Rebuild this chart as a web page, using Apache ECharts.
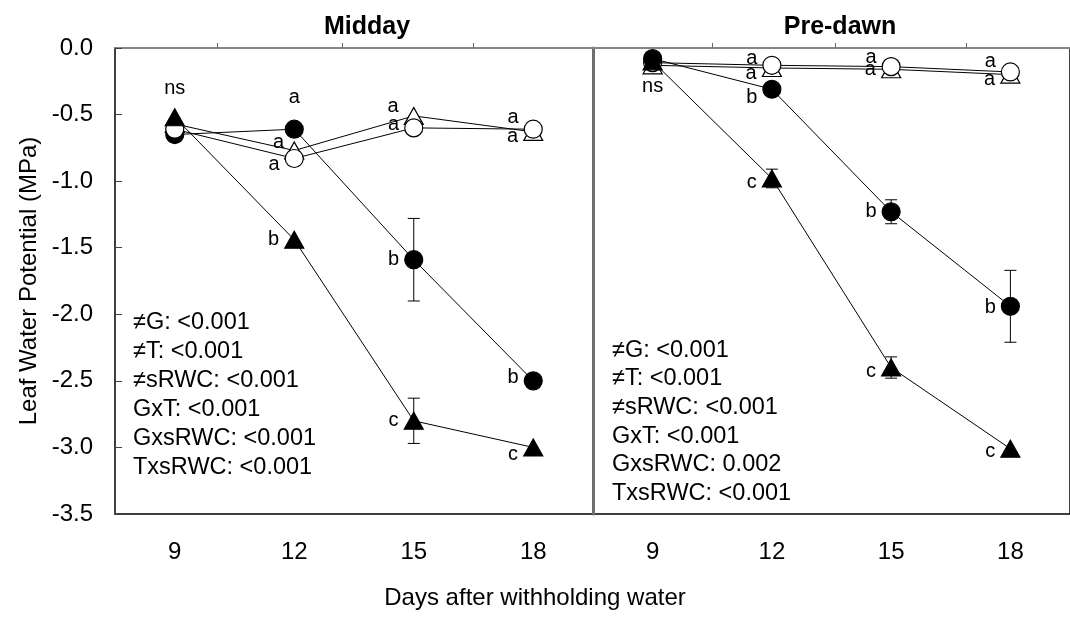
<!DOCTYPE html>
<html>
<head>
<meta charset="utf-8">
<script src="https://cdn.jsdelivr.net/npm/echarts@6/dist/echarts.min.js"></script>
<style>
  html, body { margin: 0; padding: 0; background: #fff; }
  #chart { width: 1070px; height: 619px; }
</style>
</head>
<body>
<div id="chart"></div>
<script>
// ---- data ----
const days = [9, 12, 15, 18];
const dayTickLabels = [9, 12, 15, 18];
const yTickLabels = [0, -0.5, -1, -1.5, -2, -2.5, -3, -3.5];

// Midday leaf water potential (MPa)
const midFilledCircle = [-0.65, -0.61, -1.59, -2.50];
const midFilledCircleErr = [0, 0, 0.31, 0];
const midFilledTri = [-0.52, -1.44, -2.80, -3.00];
const midFilledTriErr = [0, 0, 0.17, 0];
const midOpenCircle = [-0.61, -0.83, -0.60, -0.61];
const midOpenTri = [-0.57, -0.77, -0.51, -0.63];

// Pre-dawn leaf water potential (MPa)
const preFilledCircle = [-0.08, -0.31, -1.23, -1.94];
const preFilledCircleErr = [0, 0, 0.09, 0.27];
const preFilledTri = [-0.10, -0.98, -2.40, -3.01];
const preFilledTriErr = [0, 0.07, 0.08, 0];
const preOpenCircle = [-0.11, -0.13, -0.14, -0.18];
const preOpenTri = [-0.13, -0.15, -0.16, -0.20];

// significance letters
const midFilledCircleLetters = ['', 'a', 'b', 'b'];
const midFilledTriLetters = ['ns', 'b', 'c', 'c'];
const midOpenCircleLetters = ['', 'a', 'a', 'a'];
const midOpenTriLetters = ['', 'a', 'a', 'a'];
const preFilledCircleLetters = ['', 'b', 'b', 'b'];
const preFilledTriLetters = ['ns', 'c', 'c', 'c'];
const preOpenCircleLetters = ['', 'a', 'a', 'a'];
const preOpenTriLetters = ['', 'a', 'a', 'a'];

// ANOVA p-values
const midStats = ['≠G: <0.001', '≠T: <0.001', '≠sRWC: <0.001', 'GxT: <0.001', 'GxsRWC: <0.001', 'TxsRWC: <0.001'];
const preStats = ['≠G: <0.001', '≠T: <0.001', '≠sRWC: <0.001', 'GxT: <0.001', 'GxsRWC: 0.002', 'TxsRWC: <0.001'];

// minor x tick positions (days)
const midXTicks = [10.06, 13.2, 16.49];
const preXTicks = [10.5, 13.6, 16.9];

// ---- styling ----
const FONT = '"Liberation Sans", Arial, Helvetica, sans-serif';

// where each letter sits relative to its marker
const L = (dy) => ({ pos: 'left', dy: dy, dist: 5 });
const midLayout = {
  filledCircle: [null, { pos: 'top', dist: 12 }, L(0), L(-3)],
  filledTri: [{ pos: 'top', dist: 10 }, L(0), L(0), L(7)],
  openCircle: [null, L(6), L(-3), L(-12)],
  openTri: [null, { pos: 'left', dy: -8, dist: 0 }, L(-9), L(5)]
};
const preLayout = {
  filledCircle: [null, L(8), L(0), L(1)],
  filledTri: [{ pos: 'bottom', dist: 6 }, L(4), L(4), L(3)],
  openCircle: [null, L(-7), L(-9), L(-10)],
  openTri: [null, L(6), L(0), L(5)]
};

function pointLabel(text, place) {
  if (!text || !place) return { show: false };
  return {
    show: true,
    formatter: text,
    position: place.pos,
    distance: place.dist,
    offset: [0, place.dy || 0],
    fontSize: 20,
    fontFamily: FONT,
    color: '#000'
  };
}

function lineSeries(idx, values, letters, layout, symbol, filled, z) {
  return {
    type: 'line',
    xAxisIndex: idx,
    yAxisIndex: idx,
    data: days.map((d, i) => ({ value: [d, values[i]], label: pointLabel(letters[i], layout[i]) })),
    symbol: symbol,
    symbolSize: symbol === 'triangle' ? [19, 17] : 18,
    showAllSymbol: true,
    lineStyle: { color: '#000', width: 1 },
    itemStyle: { color: filled ? '#000' : '#fff', borderColor: '#000', borderWidth: 1.2 },
    emphasis: { disabled: true },
    z: z,
    animation: false
  };
}

function errorSeries(idx, values, errs) {
  const data = [];
  days.forEach((d, i) => {
    if (errs[i] > 0) data.push([d, values[i] - errs[i], values[i] + errs[i]]);
  });
  return {
    type: 'custom',
    xAxisIndex: idx,
    yAxisIndex: idx,
    data: data,
    z: 1,
    animation: false,
    renderItem: function (params, api) {
      const lo = api.coord([api.value(0), api.value(1)]);
      const hi = api.coord([api.value(0), api.value(2)]);
      const cap = 6;
      const st = { stroke: '#000', lineWidth: 1 };
      return {
        type: 'group',
        children: [
          { type: 'line', shape: { x1: lo[0], y1: lo[1], x2: hi[0], y2: hi[1] }, style: st },
          { type: 'line', shape: { x1: lo[0] - cap, y1: lo[1], x2: lo[0] + cap, y2: lo[1] }, style: st },
          { type: 'line', shape: { x1: hi[0] - cap, y1: hi[1], x2: hi[0] + cap, y2: hi[1] }, style: st }
        ]
      };
    }
  };
}

function xAxis(idx, ticks) {
  return {
    type: 'value',
    gridIndex: idx,
    min: 7.5,
    max: 19.5,
    axisLine: { show: true, lineStyle: { color: '#858585', width: 2 } },
    axisTick: { show: true, inside: true, length: 5, customValues: ticks, lineStyle: { color: '#666', width: 1 } },
    axisLabel: { customValues: dayTickLabels, fontSize: 24, fontFamily: FONT, color: '#000', margin: 26 },
    splitLine: { show: false }
  };
}

const chart = echarts.init(document.getElementById('chart'), null, { renderer: 'canvas' });

chart.setOption({
  backgroundColor: '#fff',
  animation: false,
  title: [
    { text: 'Midday', left: 362, top: 10, textAlign: 'center',
      textStyle: { fontSize: 25, fontWeight: 'bold', fontFamily: FONT, color: '#000' } },
    { text: 'Pre-dawn', left: 835, top: 10, textAlign: 'center',
      textStyle: { fontSize: 25, fontWeight: 'bold', fontFamily: FONT, color: '#000' } }
  ],
  grid: [
    { left: 115, top: 48, width: 478, height: 466, show: true, borderColor: '#000', borderWidth: 1.5, backgroundColor: 'transparent' },
    { left: 593, top: 48, width: 484, height: 466, show: true, borderColor: '#000', borderWidth: 1.5, backgroundColor: 'transparent' }
  ],
  xAxis: [xAxis(0, midXTicks), xAxis(1, preXTicks)],
  yAxis: [
    {
      type: 'value', gridIndex: 0, min: -3.5, max: 0, interval: 0.5,
      name: 'Leaf Water Potential (MPa)', nameLocation: 'middle', nameGap: 74, nameRotate: 90,
      nameTextStyle: { fontSize: 24, fontFamily: FONT, color: '#000' },
      axisLine: { show: true, lineStyle: { color: '#404040', width: 2 } },
      axisTick: { show: true, inside: true, length: 7, customValues: yTickLabels, lineStyle: { color: '#404040', width: 1 } },
      axisLabel: { fontSize: 24, fontFamily: FONT, color: '#000', margin: 22, formatter: (v) => v.toFixed(1) },
      splitLine: { show: false }
    },
    {
      type: 'value', gridIndex: 1, min: -3.5, max: 0, interval: 0.5,
      axisLine: { show: true, lineStyle: { color: '#6e6e6e', width: 3 } },
      axisTick: { show: false },
      axisLabel: { show: false },
      splitLine: { show: false }
    }
  ],
  graphic: [
    { type: 'text', left: 133, top: 308, z: 100,
      style: { text: midStats.join('\n'), fontSize: 23.5, lineHeight: 29, fontFamily: FONT, fill: '#000' } },
    { type: 'text', left: 612, top: 336, z: 100,
      style: { text: preStats.join('\n'), fontSize: 23.5, lineHeight: 28.6, fontFamily: FONT, fill: '#000' } },
    { type: 'text', left: 'center', top: 586, z: 100,
      style: { text: 'Days after withholding water', fontSize: 24, fontFamily: FONT, fill: '#000' } }
  ],
  series: [
    errorSeries(0, midFilledCircle, midFilledCircleErr),
    errorSeries(0, midFilledTri, midFilledTriErr),
    lineSeries(0, midOpenTri, midOpenTriLetters, midLayout.openTri, 'triangle', false, 2),
    lineSeries(0, midFilledCircle, midFilledCircleLetters, midLayout.filledCircle, 'circle', true, 3),
    lineSeries(0, midOpenCircle, midOpenCircleLetters, midLayout.openCircle, 'circle', false, 4),
    lineSeries(0, midFilledTri, midFilledTriLetters, midLayout.filledTri, 'triangle', true, 5),

    errorSeries(1, preFilledCircle, preFilledCircleErr),
    errorSeries(1, preFilledTri, preFilledTriErr),
    lineSeries(1, preOpenTri, preOpenTriLetters, preLayout.openTri, 'triangle', false, 2),
    lineSeries(1, preOpenCircle, preOpenCircleLetters, preLayout.openCircle, 'circle', false, 3),
    lineSeries(1, preFilledTri, preFilledTriLetters, preLayout.filledTri, 'triangle', true, 4),
    lineSeries(1, preFilledCircle, preFilledCircleLetters, preLayout.filledCircle, 'circle', true, 5)
  ]
});
</script>
</body>
</html>
